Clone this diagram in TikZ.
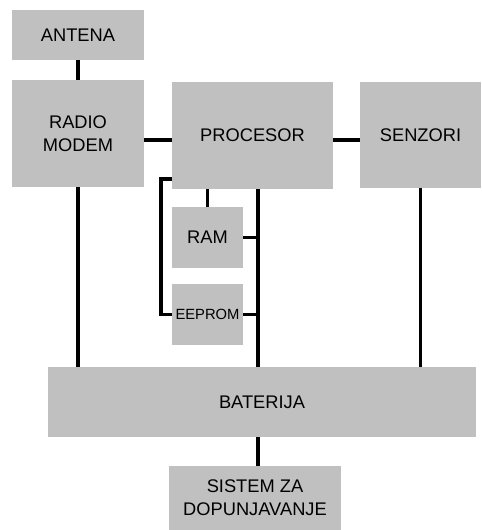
\documentclass[tikz,border=0pt]{standalone}
\usepackage{fontspec}
\setmainfont{Liberation Sans}
\usetikzlibrary{positioning,calc}
\definecolor{boxgray}{HTML}{C0C0C0}
\definecolor{wire}{HTML}{000000}

\begin{document}
\begin{tikzpicture}[
    x=0.025cm, y=-0.025cm,
    font=\fontsize{13}{16.5}\selectfont,
    block/.style={fill=boxgray, draw=none, inner sep=0pt, outer sep=0pt,
                  align=center},
    memblock/.style={block, minimum width=1.775cm, minimum height=1.525cm},
    link/.style={wire, line width=2.8pt},
]
\useasboundingbox (0,0) rectangle (481,530);

% =====================================================================
% upper row: antenna, modem, processor, sensors
% =====================================================================
\node[block, minimum width=3.3cm, minimum height=1.25cm]  (antena)   at (78,35)    {ANTENA};
\node[block, minimum width=3.3cm, minimum height=2.675cm] (radio)    at (78,133.5) {RADIO\\MODEM};
\node[block, minimum width=4.025cm, minimum height=2.675cm] (procesor) at (252.5,135.5) {PROCESOR};
\node[block, minimum width=3.025cm, minimum height=2.65cm] (senzori)  at (420.5,135) {SENZORI};

% memories under the processor
\node[memblock] (ram)    at (207.5,237.5) {RAM};
\node[memblock, font=\fontsize{10.5}{12}\selectfont] (eeprom) at (207.5,314.5) {EEPROM};

% =====================================================================
% power part
% =====================================================================
\node[block, minimum width=10.7cm, minimum height=1.75cm] (baterija) at (262,402) {BATERIJA};
\node[block, minimum width=4.3cm, minimum height=1.6cm]   (sistem)   at (255,498)
    {SISTEM ZA\\DOPUNJAVANJE};

% helper points for the bus lines
\coordinate (hbus) at (0,140);
\coordinate (vbus) at (258,0);
\coordinate (brk)  at (161,179);

% connections
\draw[link] (antena.south) -- (radio.north);
\draw[link] (radio.east |- hbus) -- (procesor.west |- hbus);
\draw[link] (procesor.east |- hbus) -- (senzori.west |- hbus);
\draw[link] (radio.south) -- (radio.south |- baterija.north);
\draw[link] (senzori.south) -- (senzori.south |- baterija.north);
\draw[link] (procesor.south -| vbus) -- (baterija.north -| vbus);
\draw[link] (ram.north) -- (ram.north |- procesor.south);
\draw[link] (ram.east) -- (ram.east -| vbus);
\draw[link] (eeprom.east) -- (eeprom.east -| vbus);
\draw[link] (procesor.west |- brk) -- (brk) -- (brk |- eeprom.west) -- (eeprom.west);
\draw[link] (baterija.south -| vbus) -- (sistem.north -| vbus);

\end{tikzpicture}
\end{document}
